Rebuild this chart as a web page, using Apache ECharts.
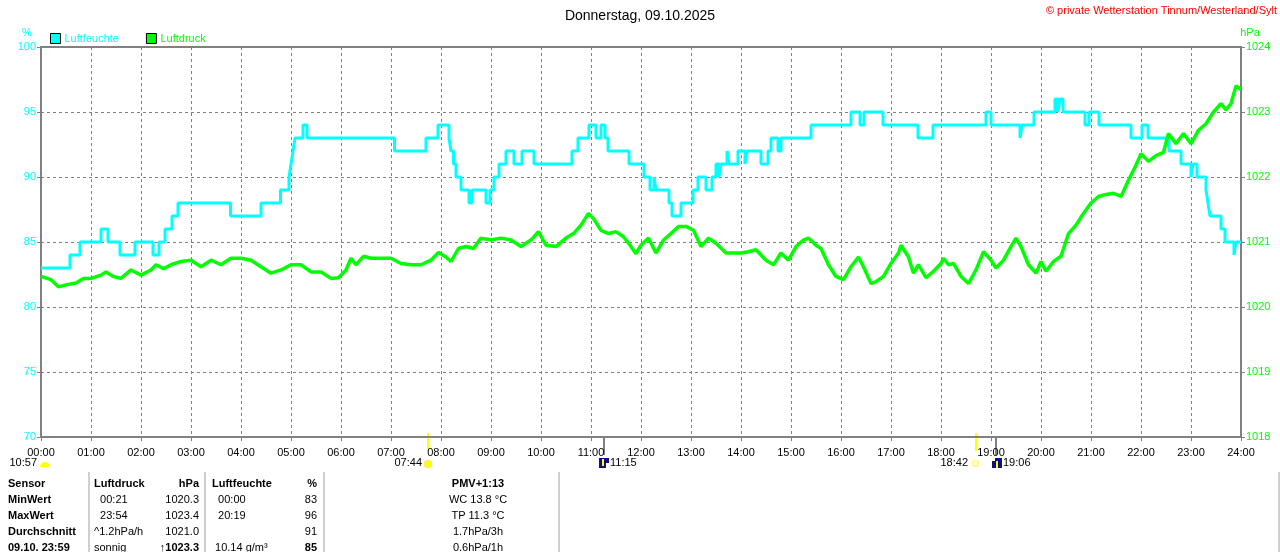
<!DOCTYPE html>
<html>
<head>
<meta charset="utf-8">
<title>Donnerstag, 09.10.2025</title>
<script src="https://cdn.jsdelivr.net/npm/echarts@6.0.0/dist/echarts.min.js"></script>
<style>
html,body{margin:0;padding:0;background:#fff;}
#container{width:1280px;height:552px;}
</style>
</head>
<body>
<div id="container"></div>
<script>
// Achsenbeschriftung
var xLabels = ['00:00','01:00','02:00','03:00','04:00','05:00','06:00','07:00','08:00','09:00','10:00','11:00','12:00',
	'13:00','14:00','15:00','16:00','17:00','18:00','19:00','20:00','21:00','22:00','23:00','24:00'];

// Luftfeuchte (%): Zeitpunkt der Aenderung (Stunden) und neuer Wert
var humTime = [0,0.58,0.78,1.2,1.34,1.58,1.88,2.24,2.36,2.48,2.62,2.74,3.79,4.4,4.79,4.96,5.0,5.04,5.08,5.24,5.32,
	7.07,7.7,7.94,8.16,8.2,8.25,8.3,8.4,8.56,8.62,8.9,8.98,9.06,9.16,9.3,9.46,9.62,9.86,10.62,10.74,10.96,11.1,11.2,11.28,11.34,11.76,
	12.06,12.18,12.26,12.3,12.56,12.62,12.8,13.04,13.14,13.3,13.42,13.5,13.56,13.6,13.72,13.76,13.94,14.08,14.12,14.4,14.54,14.6,14.74,14.8,
	15.4,16.2,16.38,16.46,16.84,17.54,17.84,18.9,19.0,19.58,19.62,19.86,20.28,20.34,20.38,20.44,20.88,20.96,21.16,21.8,22.02,22.14,
	22.56,22.8,23.0,23.04,23.12,23.3,23.34,23.38,23.6,23.68,23.86,23.9,24.0];
var humValue = [83,84,85,86,85,84,85,84,85,86,87,88,87,88,89,90,91,92,93,94,93,
	92,93,94,93,92,91,90,89,88,89,88,89,90,91,92,91,92,91,92,93,94,93,94,93,92,91,
	90,89,90,89,88,87,88,89,90,89,90,91,90,91,92,91,92,91,92,91,92,93,92,93,
	94,95,94,95,94,93,94,95,94,93,94,95,96,95,96,95,94,95,94,93,94,93,
	92,91,90,91,90,89,88,87,86,85,84,85,85];

// Luftdruck (hPa)
var pressTime = [0,0.2,0.35,0.5,0.7,0.85,1.0,1.2,1.3,1.45,1.6,1.8,2.0,2.2,2.3,2.45,2.6,2.8,3.0,3.2,3.4,3.6,3.8,4.0,4.2,4.4,4.6,4.8,
	5.0,5.2,5.4,5.6,5.8,5.95,6.1,6.2,6.3,6.45,6.6,6.8,7.0,7.2,7.4,7.6,7.8,7.95,8.1,8.2,8.35,8.5,8.65,8.8,9.0,9.2,9.4,9.6,9.8,9.95,
	10.1,10.3,10.5,10.65,10.8,10.95,11.05,11.2,11.35,11.5,11.65,11.8,11.9,12.0,12.15,12.3,12.45,12.6,12.75,12.9,13.05,13.2,13.35,13.5,
	13.7,13.85,14.0,14.15,14.3,14.5,14.65,14.8,14.95,15.1,15.25,15.35,15.5,15.6,15.75,15.9,16.05,16.2,16.35,16.45,16.6,16.7,16.85,
	17.0,17.15,17.2,17.35,17.45,17.55,17.7,17.85,18.0,18.05,18.15,18.25,18.4,18.55,18.7,18.85,19.0,19.1,19.25,19.4,19.5,19.6,19.75,
	19.9,20.0,20.1,20.25,20.4,20.55,20.7,20.85,21.0,21.15,21.3,21.45,21.6,21.75,21.9,22.0,22.15,22.3,22.45,22.55,22.7,22.85,23.0,
	23.15,23.3,23.45,23.6,23.7,23.8,23.9,24.0];
var pressValue = [1020.47,1020.42,1020.31,1020.34,1020.37,1020.44,1020.44,1020.49,1020.54,1020.47,1020.44,1020.57,1020.49,1020.57,
	1020.65,1020.59,1020.65,1020.70,1020.72,1020.62,1020.72,1020.65,1020.75,1020.75,1020.72,1020.62,1020.52,1020.57,
	1020.65,1020.65,1020.54,1020.54,1020.44,1020.45,1020.57,1020.75,1020.65,1020.78,1020.75,1020.75,1020.75,1020.67,1020.65,1020.65,
	1020.72,1020.84,1020.77,1020.70,1020.90,1020.93,1020.90,1021.06,1021.03,1021.06,1021.03,1020.93,1021.03,1021.16,
	1020.95,1020.93,1021.06,1021.13,1021.26,1021.44,1021.36,1021.18,1021.13,1021.16,1021.08,1020.93,1020.82,1020.95,1021.06,1020.83,
	1021.03,1021.13,1021.24,1021.24,1021.18,1020.93,1021.06,1020.98,
	1020.83,1020.83,1020.83,1020.85,1020.88,1020.72,1020.65,1020.83,1020.72,1020.93,1021.03,1021.06,1020.95,1020.90,1020.65,1020.47,
	1020.42,1020.62,1020.77,1020.62,1020.36,1020.39,1020.47,
	1020.67,1020.83,1020.95,1020.77,1020.52,1020.65,1020.45,1020.55,1020.67,1020.75,1020.65,1020.67,1020.47,1020.36,1020.57,1020.85,
	1020.72,1020.60,1020.72,1020.93,1021.06,1020.93,1020.65,
	1020.52,1020.70,1020.55,1020.70,1020.78,1021.13,1021.26,1021.44,1021.60,1021.70,1021.73,1021.75,1021.70,1021.95,1022.18,1022.36,
	1022.24,1022.33,1022.38,1022.67,1022.51,1022.67,1022.51,
	1022.72,1022.82,1023.00,1023.13,1023.03,1023.13,1023.40,1023.35];

// Sonne/Mond Ereignisse
var eventTime = [10.95, 7.733, 11.25, 18.7, 19.1];
var eventLabel = ['10:57', '07:44', '11:15', '18:42', '19:06'];

// Tabelle unten
var tableRows = [
	['Sensor', 'Luftdruck', 'hPa', 'Luftfeuchte', '%', 'PMV+1:13'],
	['MinWert', '  00:21', '1020.3', '  00:00', '83', 'WC 13.8 °C'],
	['MaxWert', '  23:54', '1023.4', '  20:19', '96', 'TP 11.3 °C'],
	['Durchschnitt', '^1.2hPa/h', '1021.0', '', '91', '1.7hPa/3h'],
	['09.10. 23:59', 'sonnig', '\u21911023.3', ' 10.14 g/m\u00b3', '85', '0.6hPa/1h']
];

var FONT = '"Liberation Sans", Arial, sans-serif';
var cyan = '#00ffff';
var green = '#00ff00';

function buildPairs(t, v){
	var out = [];
	for(var i = 0; i < t.length; i++){
		out.push([t[i], v[i]]);
	}
	return out;
}

var option = {
	animation: false,
	backgroundColor: '#fff',
	title: {
		text: 'Donnerstag, 09.10.2025',
		left: 'center',
		top: 4,
		textStyle: {fontSize: 14, fontWeight: 'normal', color: '#000', fontFamily: FONT}
	},
	legend: {
		left: 50,
		top: 33,
		padding: 0,
		itemWidth: 10,
		itemHeight: 10,
		itemGap: 27,
		icon: 'rect',
		itemStyle: {borderColor: '#000', borderWidth: 1},
		textStyle: {fontSize: 11, fontFamily: FONT, padding: [0, 0, 0, -1]},
		data: [
			{name: 'Luftfeuchte', textStyle: {color: cyan}},
			{name: 'Luftdruck', textStyle: {color: green}}
		]
	},
	grid: {
		left: 41, right: 39, top: 47, bottom: 115,
		show: true,
		borderColor: '#808080',
		borderWidth: 2
	},
	xAxis: {
		type: 'value',
		min: 0, max: 24, interval: 1,
		axisLine: {lineStyle: {color: '#808080', width: 2}},
		axisTick: {show: true, length: 4, lineStyle: {color: '#808080'}},
		axisLabel: {
			color: '#000', fontSize: 11, fontFamily: FONT, margin: 10,
			formatter: function(v){ return xLabels[Math.round(v)]; }
		},
		splitLine: {show: true, lineStyle: {color: '#808080', type: [3, 3], width: 1}}
	},
	yAxis: [
		{
			type: 'value',
			min: 70, max: 100, interval: 5,
			position: 'left',
			axisLine: {show: true, lineStyle: {color: '#808080', width: 2}},
			axisTick: {show: true, length: 4, lineStyle: {color: '#808080'}},
			axisLabel: {color: cyan, fontSize: 11, fontFamily: FONT, margin: 5},
			splitLine: {show: true, lineStyle: {color: '#808080', type: [3, 3], width: 1}}
		},
		{
			type: 'value',
			min: 1018, max: 1024, interval: 1,
			position: 'right',
			axisLine: {show: true, lineStyle: {color: '#808080', width: 2}},
			axisTick: {show: true, length: 4, lineStyle: {color: '#808080'}},
			axisLabel: {
				color: green, fontSize: 11, fontFamily: FONT, margin: 5,
				formatter: function(v){ return String(v); }
			},
			splitLine: {show: false}
		}
	],
	series: [
		{
			name: 'Luftfeuchte',
			type: 'line',
			yAxisIndex: 0,
			step: 'end',
			showSymbol: false,
			color: cyan,
			lineStyle: {color: cyan, width: 3},
			data: buildPairs(humTime, humValue),
			z: 3
		},
		{
			name: 'Luftdruck',
			type: 'line',
			yAxisIndex: 1,
			showSymbol: false,
			color: green,
			lineStyle: {color: green, width: 3.5},
			data: buildPairs(pressTime, pressValue),
			z: 4
		}
	]
};

var myChart = echarts.init(document.getElementById('container'));
myChart.setOption(option, true);

function txt(s, x, y, color, bold, align, size){
	return {
		type: 'text',
		style: {
			text: s, x: x, y: y,
			fill: color || '#000',
			font: (bold ? 'bold ' : '') + (size || 11) + 'px ' + FONT,
			align: align || 'left',
			verticalAlign: 'middle'
		}
	};
}
function vline(x, y1, y2, color, w){
	return {type: 'line', shape: {x1: x, y1: y1, x2: x, y2: y2}, style: {stroke: color, lineWidth: w || 1}};
}

// Zusatzgrafik: Achsennamen, Copyright, Ereignisse, Tabelle
function buildGraphic(){
	var g = [];
	g.push(txt('%', 27, 33, cyan, false, 'center'));
	g.push(txt('hPa', 1250, 33, green, false, 'center'));
	g.push(txt('\u00a9 private Wetterstation Tinnum/Westerland/Sylt', 1277, 11, '#ff0000', false, 'right'));

	var yAx = 437;
	var xs = [];
	for(var i = 0; i < eventTime.length; i++){
		xs.push(Math.round(myChart.convertToPixel({xAxisIndex: 0}, eventTime[i])));
	}
	// 10:57 Mond links
	g.push(txt(eventLabel[0], 37, 463, '#000', false, 'right'));
	g.push({type: 'sector', shape: {cx: 45, cy: 467, r0: 0, r: 5, startAngle: Math.PI, endAngle: Math.PI * 2}, style: {fill: '#ffff00'}});
	// Sonnenaufgang
	g.push(vline(xs[1], yAx - 4, yAx + 14, '#ffff00', 2));
	g.push(txt(eventLabel[1], xs[1] - 6, 463, '#000', false, 'right'));
	g.push({type: 'circle', shape: {cx: xs[1], cy: 464, r: 4}, style: {fill: '#ffff00', stroke: '#ffe680', lineWidth: 1}});
	// Mondaufgang
	g.push(vline(xs[2], yAx, yAx + 18, '#808080', 2));
	g.push({type: 'rect', shape: {x: xs[2] - 5, y: 458, width: 10, height: 10}, style: {fill: '#10107a'}});
	g.push(vline(xs[2] - 1, 459, 466, '#ffff00', 2));
	g.push({type: 'rect', shape: {x: xs[2] + 2, y: 463, width: 3, height: 5}, style: {fill: '#ffffff'}});
	g.push(txt(eventLabel[2], xs[2] + 6, 463, '#000', false, 'left'));
	// Sonnenuntergang
	g.push(vline(xs[3], yAx - 4, yAx + 14, '#ffff00', 2));
	g.push(txt(eventLabel[3], xs[3] - 8, 463, '#000', false, 'right'));
	g.push({type: 'rect', shape: {x: xs[3] - 3, y: 461, width: 5, height: 5}, style: {fill: '#fff', stroke: '#ffff00', lineWidth: 1}});
	// Monduntergang
	g.push(vline(xs[4], yAx, yAx + 18, '#808080', 2));
	g.push({type: 'rect', shape: {x: xs[4] - 4, y: 458, width: 10, height: 10}, style: {fill: '#10107a'}});
	g.push(vline(xs[4] + 1, 461, 468, '#ffff00', 2));
	g.push({type: 'rect', shape: {x: xs[4] - 4, y: 458, width: 3, height: 3}, style: {fill: '#ffffff'}});
	g.push(txt(eventLabel[4], xs[4] + 7, 463, '#000', false, 'left'));

	// Tabelle
	var seps = [89, 205, 324, 559, 1279];
	for(var s = 0; s < seps.length; s++){
		g.push(vline(seps[s], 472, 552, '#a0a0a0', 1));
	}
	var rowY = [484, 500, 516, 532, 548];
	for(var r = 0; r < tableRows.length; r++){
		var row = tableRows[r];
		var head = (r == 0);
		var last = (r == tableRows.length - 1);
		g.push(txt(row[0], 8, rowY[r], '#000', true, 'left'));
		g.push(txt(row[1], 94, rowY[r], '#000', head, 'left'));
		g.push(txt(row[2], 199, rowY[r], '#000', head || last, 'right'));
		g.push(txt(row[3], 212, rowY[r], '#000', head, 'left'));
		g.push(txt(row[4], 317, rowY[r], '#000', head || last, 'right'));
		g.push(txt(row[5], 478, rowY[r], '#000', head, 'center'));
	}
	return g;
}

myChart.setOption({graphic: buildGraphic()});
</script>
</body>
</html>
